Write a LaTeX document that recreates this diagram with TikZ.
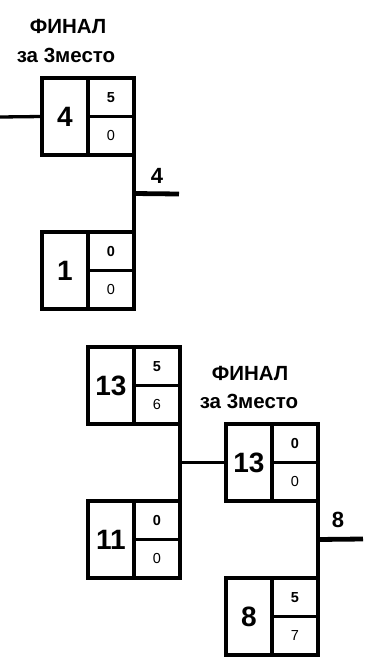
\documentclass[tikz,border=0pt]{standalone}
\usepackage{fontspec}
\setmainfont{Liberation Sans}
\usetikzlibrary{calc}
\tikzset{
 cell/.style={draw, line width=3.6pt, minimum width=46pt, minimum height=38.5pt, inner sep=0pt, outer sep=0pt, anchor=north west},
 bigcell/.style={cell, minimum height=77pt, font=\bfseries\fontsize{28}{28}\selectfont},
 topcell/.style={cell, font=\bfseries\fontsize{14.5}{14.5}\selectfont},
 botcell/.style={cell, font=\fontsize{14.5}{14.5}\selectfont},
 conn/.style={line width=3.3pt},
 outconn/.style={line width=4.8pt},
 titletext/.style={font=\bfseries\fontsize{20.5}{20.5}\selectfont, inner sep=0pt},
 winner/.style={font=\bfseries\fontsize{22}{22}\selectfont, inner sep=0pt}
}
\newcommand\matchbox[6]{%
 \node[bigcell] (#1) at (#2,#3) {#4};
 \node[topcell] (#1t) at (#1.north east) {#5};
 \node[botcell] (#1b) at (#1t.south west) {#6};
}
\begin{document}
\begin{tikzpicture}[x=1pt,y=-1pt]
\useasboundingbox (0,0) rectangle (366,662);
% titles
\node[titletext] (t1a) at (68,26) {ФИНАЛ};
\node[titletext] (t1b) at (66,55) {за 3место};
\node[titletext] (t2a) at (250,373) {ФИНАЛ};
\node[titletext] (t2b) at (249,401) {за 3место};
% first bracket
\matchbox{b1}{42}{78}{4}{5}{0}
\matchbox{b2}{42}{232}{1}{0}{0}
\coordinate (in1) at (0,117);
\draw[conn] (in1) -- (b1.west);
\draw[conn] (b1b.south east) -- (b2t.north east);
\coordinate (m1) at ($(b1b.south east)!0.5!(b2t.north east)$);
\coordinate (o1) at (179,194);
\draw[outconn] (m1) -- (o1);
\node[winner] (w1) at (157,176) {4};
% second bracket
\matchbox{ba}{88}{347}{13}{5}{6}
\matchbox{bb}{88}{501}{11}{0}{0}
\matchbox{bc}{226}{424}{13}{0}{0}
\matchbox{bd}{226}{578}{8}{5}{7}
\draw[conn] (bab.south east) -- (bbt.north east);
\coordinate (m2) at ($(bab.south east)!0.5!(bbt.north east)$);
\draw[conn] (m2) -- (bc.west);
\draw[conn] (bcb.south east) -- (bdt.north east);
\coordinate (m3) at ($(bcb.south east)!0.5!(bdt.north east)$);
\coordinate (o2) at (363,539);
\draw[outconn] (m3) -- (o2);
\node[winner] (w2) at (338,520) {8};
\end{tikzpicture}
\end{document}
